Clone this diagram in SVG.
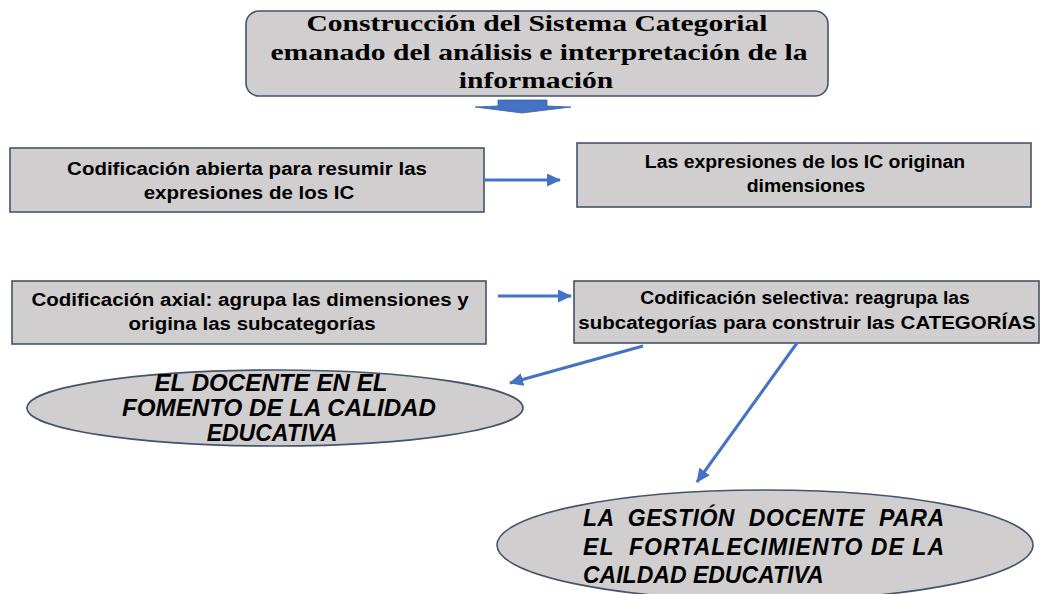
<svg xmlns="http://www.w3.org/2000/svg" width="1041" height="594" viewBox="0 0 1041 594">
<style>
.box{fill:#d0cece;stroke:#44546a;stroke-width:1.6}
.ser{font-family:"Liberation Serif","DejaVu Serif",serif;font-weight:bold;font-size:23.5px;fill:#000;text-anchor:middle}
.san{font-family:"Liberation Sans",Arial,sans-serif;font-weight:bold;font-size:18.5px;fill:#000;text-anchor:middle}
.ita{font-family:"Liberation Sans",Arial,sans-serif;font-weight:bold;font-style:italic;font-size:23px;fill:#000;white-space:pre}
.con{stroke:#4472c4;stroke-width:3;fill:none;marker-end:url(#ah)}
</style>
<defs>
<marker id="ah" markerUnits="userSpaceOnUse" markerWidth="14" markerHeight="13" refX="13" refY="6.5" orient="auto">
<path d="M0,0 L14,6.5 L0,13 Z" fill="#4472c4"/>
</marker>
</defs>
<rect width="1041" height="594" fill="#fff"/>
<g id="n-top">
<rect class="box" x="246" y="11" width="582" height="85" rx="13"/>
<text class="ser" transform="translate(537,31) scale(1.26,1)">Construcción del Sistema Categorial</text>
<text class="ser" transform="translate(539,60) scale(1.26,1)">emanado del análisis e interpretación de la</text>
<text class="ser" transform="translate(536,88) scale(1.26,1)">información</text>
</g>
<g id="n-abierta">
<rect class="box" x="10" y="148" width="474" height="64"/>
<text class="san" transform="translate(247,175) scale(1.108,1)">Codificación abierta para resumir las</text>
<text class="san" transform="translate(249,199) scale(1.108,1)">expresiones de los IC</text>
</g>
<g id="n-dimensiones">
<rect class="box" x="577" y="143" width="454" height="64"/>
<text class="san" transform="translate(805,168) scale(1.05,1)">Las expresiones de los IC originan</text>
<text class="san" transform="translate(806,192) scale(1.05,1)">dimensiones</text>
</g>
<g id="n-axial">
<rect class="box" x="12" y="281" width="474" height="63"/>
<text class="san" transform="translate(250,306) scale(1.108,1)">Codificación axial: agrupa las dimensiones y</text>
<text class="san" transform="translate(252,330) scale(1.108,1)">origina las subcategorías</text>
</g>
<g id="n-selectiva">
<rect class="box" x="574" y="281" width="465" height="62"/>
<text class="san" transform="translate(805,304) scale(1.045,1)">Codificación selectiva: reagrupa las</text>
<text class="san" transform="translate(807,329) scale(1.108,1)">subcategorías para construir las CATEGORÍAS</text>
</g>
<g id="n-docente">
<ellipse class="box" cx="275" cy="408" rx="248" ry="38"/>
<text class="ita" text-anchor="middle" transform="translate(271,391) scale(1.05,1)">EL DOCENTE EN EL</text>
<text class="ita" text-anchor="middle" transform="translate(279,416) scale(1.05,1)">FOMENTO DE LA CALIDAD</text>
<text class="ita" text-anchor="middle" transform="translate(272,441) scale(1.0,1)">EDUCATIVA</text>
</g>
<g id="n-gestion">
<ellipse class="box" cx="765" cy="545" rx="268" ry="55"/>
<text class="ita" x="583" y="526" textLength="361" lengthAdjust="spacing">LA  GESTIÓN  DOCENTE  PARA</text>
<text class="ita" x="583" y="555" textLength="361" lengthAdjust="spacing">EL  FORTALECIMIENTO DE LA</text>
<text class="ita" x="583" y="583">CAILDAD EDUCATIVA</text>
</g>
<g id="connectors">
<polygon points="498,100 547,100 547,106 571,107 522,113 475,107 498,106" fill="#4472c4" stroke="#3a62a8" stroke-width="0.8"/>
<line class="con" x1="484" y1="180" x2="560" y2="180"/>
<line class="con" x1="498" y1="296" x2="571" y2="296"/>
<line class="con" x1="643" y1="346" x2="510" y2="383"/>
<line class="con" x1="797" y1="343" x2="697" y2="482"/>
</g>
</svg>
